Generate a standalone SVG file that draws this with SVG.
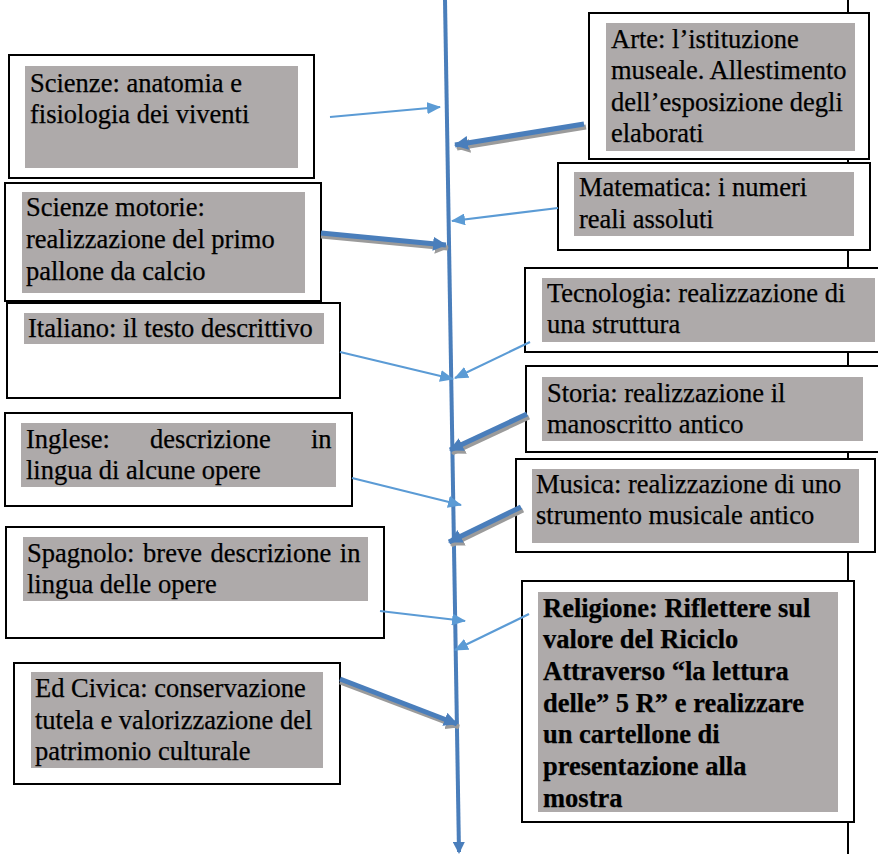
<svg xmlns="http://www.w3.org/2000/svg" width="878" height="854" viewBox="0 0 878 854">
<style>
.outer{fill:#ffffff;stroke:#000000;stroke-width:2}
.inner{fill:#AEAAAA}
.t{font-family:"Liberation Serif","Times New Roman",serif;font-size:26.5px;fill:#000000;stroke:#000000;stroke-width:0.25}
.b{font-weight:bold}
.thin{stroke:#5B9BD5;stroke-width:2.2;fill:none;marker-end:url(#hThin)}
.thick{stroke:#4A7EBB;stroke-width:5;fill:none;marker-end:url(#hThick)}
.shadow{stroke:#9B9B9B;stroke-width:5;fill:none;marker-end:url(#hShadow)}
.main{stroke:#4A7EBB;stroke-width:4;fill:none;marker-end:url(#hMain)}
</style>
<defs>
<marker id="hThin" markerUnits="userSpaceOnUse" markerWidth="14" markerHeight="12" refX="13" refY="6" orient="auto"><path d="M0,0 L14,6 L0,12 z" fill="#5B9BD5"/></marker>
<marker id="hThick" markerUnits="userSpaceOnUse" markerWidth="14" markerHeight="14" refX="13" refY="7" orient="auto"><path d="M0,0 L14,7 L0,14 z" fill="#4A7EBB"/></marker>
<marker id="hShadow" markerUnits="userSpaceOnUse" markerWidth="14" markerHeight="14" refX="13" refY="7" orient="auto"><path d="M0,0 L14,7 L0,14 z" fill="#9B9B9B"/></marker>
<marker id="hMain" markerUnits="userSpaceOnUse" markerWidth="12" markerHeight="12" refX="10" refY="6" orient="auto"><path d="M0,0 L12,6 L0,12 z" fill="#4A7EBB"/></marker>
</defs>
<rect width="878" height="854" fill="#ffffff"/>
<line x1="848" y1="0" x2="848" y2="854" stroke="#000000" stroke-width="2"/>

<g id="scienze">
<rect class="outer" x="9" y="55" width="305" height="123"/>
<rect class="inner" x="25" y="66" width="273" height="102"/>
<text class="t" x="30" y="92">Scienze: anatomia e</text>
<text class="t" x="30" y="123">fisiologia dei viventi</text>
</g>
<g id="scienze-motorie">
<rect class="outer" x="5" y="183" width="316" height="118"/>
<rect class="inner" x="22" y="192" width="283" height="101"/>
<text class="t" x="26" y="216">Scienze motorie:</text>
<text class="t" x="26" y="248">realizzazione del primo</text>
<text class="t" x="26" y="280">pallone da calcio</text>
</g>
<g id="italiano">
<rect class="outer" x="7" y="303" width="333" height="95"/>
<rect class="inner" x="24" y="313" width="300" height="31"/>
<text class="t" x="28" y="337">Italiano: il testo descrittivo</text>
</g>
<g id="inglese">
<rect class="outer" x="5" y="413" width="347" height="93"/>
<rect class="inner" x="21" y="423" width="315" height="64"/>
<text class="t" y="448"><tspan x="26">Inglese:</tspan><tspan x="150">descrizione</tspan><tspan x="311">in</tspan></text>
<text class="t" x="26" y="479">lingua di alcune opere</text>
</g>
<g id="spagnolo">
<rect class="outer" x="6" y="527" width="378" height="111"/>
<rect class="inner" x="23" y="537" width="345" height="64"/>
<text class="t" x="27" y="562" word-spacing="2">Spagnolo: breve descrizione in</text>
<text class="t" x="27" y="593">lingua delle opere</text>
</g>
<g id="ed-civica">
<rect class="outer" x="14" y="663" width="326" height="121"/>
<rect class="inner" x="31" y="672" width="292" height="96"/>
<text class="t" x="35" y="697">Ed Civica: conservazione</text>
<text class="t" x="35" y="729">tutela e valorizzazione del</text>
<text class="t" x="35" y="760">patrimonio culturale</text>
</g>
<g id="arte">
<rect class="outer" x="589" y="13" width="280" height="146"/>
<rect class="inner" x="606" y="23" width="249" height="128"/>
<text class="t" x="611" y="47.5">Arte: l’istituzione</text>
<text class="t" x="611" y="79">museale. Allestimento</text>
<text class="t" x="611" y="110.5">dell’esposizione degli</text>
<text class="t" x="611" y="142">elaborati</text>
</g>
<g id="matematica">
<rect class="outer" x="558" y="163" width="312" height="87"/>
<rect class="inner" x="574" y="172" width="280" height="64"/>
<text class="t" x="579" y="196">Matematica: i numeri</text>
<text class="t" x="579" y="228">reali assoluti</text>
</g>
<g id="tecnologia">
<rect class="outer" x="525" y="268" width="360" height="84"/>
<rect class="inner" x="542" y="278" width="333" height="64"/>
<text class="t" x="547" y="302">Tecnologia: realizzazione di</text>
<text class="t" x="547" y="333">una struttura</text>
</g>
<g id="storia">
<rect class="outer" x="526" y="366" width="360" height="86"/>
<rect class="inner" x="542" y="377" width="321" height="64"/>
<text class="t" x="547" y="402">Storia: realizzazione il</text>
<text class="t" x="547" y="433">manoscritto antico</text>
</g>
<g id="musica">
<rect class="outer" x="516" y="459" width="359" height="93"/>
<rect class="inner" x="532" y="469" width="327" height="74"/>
<text class="t" x="536" y="493">Musica: realizzazione di uno</text>
<text class="t" x="536" y="524">strumento musicale antico</text>
</g>
<g id="religione">
<rect class="outer" x="522" y="581" width="332" height="241"/>
<rect class="inner" x="538" y="592" width="300" height="220"/>
<text class="t b" x="543" y="617">Religione: Riflettere sul</text>
<text class="t b" x="543" y="648">valore del Riciclo</text>
<text class="t b" x="543" y="680">Attraverso “la lettura</text>
<text class="t b" x="543" y="712">delle” 5 R” e realizzare</text>
<text class="t b" x="543" y="743">un cartellone di</text>
<text class="t b" x="543" y="775">presentazione alla</text>
<text class="t b" x="543" y="807">mostra</text>
</g>

<g id="connectors">
<line class="main" x1="445" y1="0" x2="459" y2="852"/>
<line class="shadow" x1="586" y1="127" x2="457" y2="148"/>
<line class="thick" x1="584" y1="124" x2="455" y2="145"/>
<line class="shadow" x1="321" y1="236" x2="448" y2="248"/>
<line class="thick" x1="321" y1="233" x2="446" y2="245"/>
<line class="shadow" x1="529" y1="417" x2="452" y2="453"/>
<line class="thick" x1="527" y1="414" x2="450" y2="450"/>
<line class="shadow" x1="523" y1="510" x2="451" y2="545"/>
<line class="thick" x1="521" y1="507" x2="449" y2="542"/>
<line class="shadow" x1="340" y1="682" x2="459" y2="727"/>
<line class="thick" x1="340" y1="679" x2="457" y2="724"/>
<line class="thin" x1="330" y1="117" x2="440" y2="107"/>
<line class="thin" x1="558" y1="208" x2="452" y2="221"/>
<line class="thin" x1="340" y1="352" x2="453" y2="379"/>
<line class="thin" x1="530" y1="342" x2="455" y2="378"/>
<line class="thin" x1="352" y1="478" x2="461" y2="505"/>
<line class="thin" x1="380" y1="611" x2="465" y2="621"/>
<line class="thin" x1="529" y1="614" x2="455" y2="650"/>
</g>
</svg>
